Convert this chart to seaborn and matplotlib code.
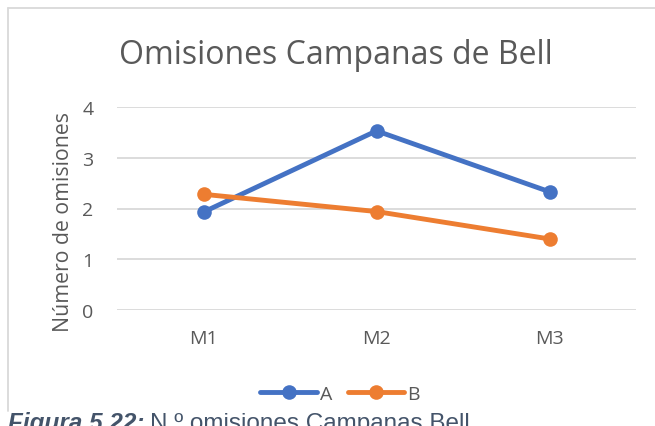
import seaborn as sns
import matplotlib.pyplot as plt
import pandas as pd
from matplotlib.lines import Line2D

# data
momentos = ['M1', 'M2', 'M3']
grupo_a = [1.93, 3.53, 2.33]
grupo_b = [2.28, 1.94, 1.40]
y_ticks = [0, 1, 2, 3, 4]

df = pd.DataFrame({
    'momento': momentos * 2,
    'omisiones': grupo_a + grupo_b,
    'grupo': ['A'] * 3 + ['B'] * 3,
})

sns.set_style('white')
plt.rcParams['font.family'] = ['Open Sans', 'DejaVu Sans']

gris = '#595959'
fig = plt.figure(figsize=(6.55, 4.27), dpi=100)
ax = fig.add_axes([117 / 655, 116 / 427, 519 / 655, 203 / 427])

sns.lineplot(data=df, x='momento', y='omisiones', hue='grupo',
             palette={'A': '#4472C4', 'B': '#ED7D31'},
             marker='o', markersize=10.5, markeredgewidth=0, linewidth=3.5,
             ax=ax, legend=False, clip_on=False)

ax.set_xlim(-0.5, 2.5)
ax.set_ylim(0, 4)
ax.set_yticks(y_ticks)
ax.yaxis.grid(True, color='#D9D9D9', linewidth=1.3)
ax.set_axisbelow(True)
for s in ax.spines.values():
    s.set_visible(False)
ax.tick_params(axis='both', length=0, labelsize=14, labelcolor=gris)
ax.tick_params(axis='y', pad=17)
ax.tick_params(axis='x', pad=14)
ax.set_xlabel('')
ax.set_ylabel('Número de omisiones', fontsize=15.3, color=gris)
ax.yaxis.set_label_coords(-0.082, 0.44)

fig.text(0.513, (427 - 64) / 427, 'Omisiones Campanas de Bell',
         ha='center', va='baseline', fontsize=23, color=gris)

handles = [Line2D([], [], color=c, linewidth=3.5, marker='o', markersize=10.5,
                  markeredgewidth=0) for c in ['#4472C4', '#ED7D31']]
leg = fig.legend(handles, ['A', 'B'], loc='center', ncol=2,
                 bbox_to_anchor=(340 / 655, (427 - 395) / 427),
                 frameon=False, fontsize=14, handlelength=2.9,
                 handletextpad=0.15, columnspacing=0.8)
for t in leg.get_texts():
    t.set_color(gris)

# chart border (cut off on the right and bottom)
borde = '#D9D9D9'
fig.add_artist(Line2D([8 / 655, 1], [1 - 9 / 427, 1 - 9 / 427], color=borde, linewidth=1.3))
fig.add_artist(Line2D([8 / 655, 8 / 655], [1 - 9 / 427, 1 - 412 / 427], color=borde, linewidth=1.3))

# caption below the chart, partly cut by the image edge
cap_color = '#44546A'
t1 = fig.text(8 / 655, -0.006, 'Figura 5.22:', fontsize=17.5, fontweight='bold',
              fontstyle='italic', color=cap_color, family='Liberation Sans', va='baseline')
fig.canvas.draw()
x_fin = t1.get_window_extent().x1
fig.text((x_fin + 5) / 655, -0.006, 'N º omisiones Campanas Bell', fontsize=17.5,
         color=cap_color, family='Liberation Sans', va='baseline')

fig.savefig('out.png', dpi=100)
